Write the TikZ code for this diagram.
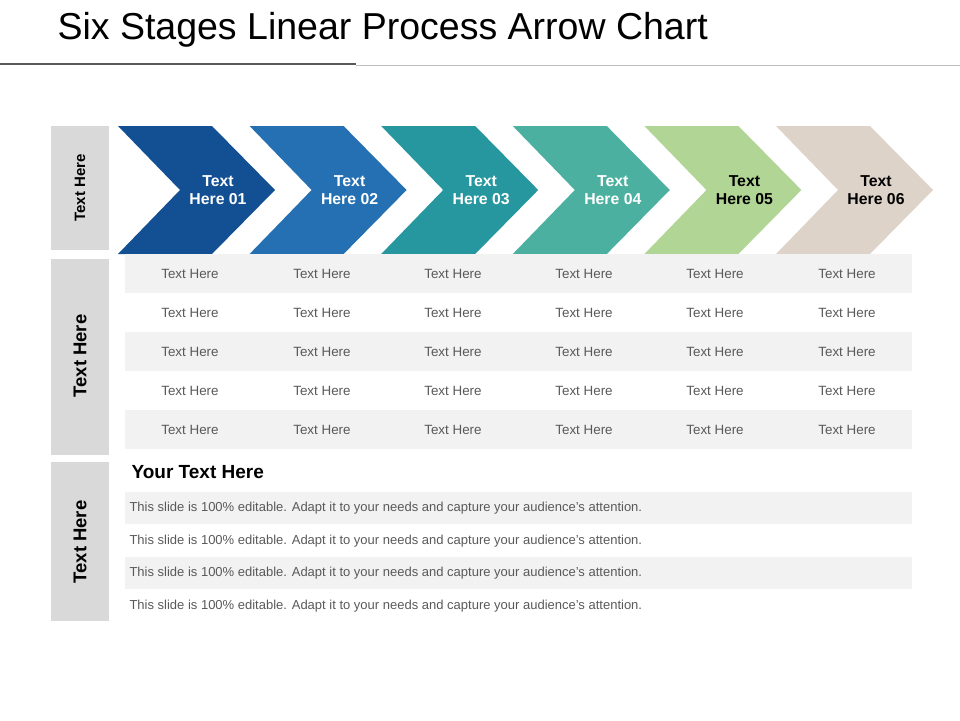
\documentclass[tikz,border=0pt]{standalone}
\usepackage{fontspec}
\setmainfont{Liberation Sans}
\definecolor{c1}{HTML}{134F93}
\definecolor{c2}{HTML}{2470B3}
\definecolor{c3}{HTML}{27979F}
\definecolor{c4}{HTML}{4BB09F}
\definecolor{c5}{HTML}{B1D595}
\definecolor{c6}{HTML}{DDD3C9}
\definecolor{rowgray}{HTML}{F2F2F2}
\definecolor{sidegray}{HTML}{D9D9D9}
\definecolor{celltext}{HTML}{595959}
\tikzset{
  side/.style={fill=sidegray,draw=none},
  sidelabel/.style={rotate=90,font=\bfseries\fontsize{15}{16}\selectfont,text=black},
  bigsidelabel/.style={rotate=90,font=\bfseries\fontsize{18.5}{20}\selectfont,text=black},
  cell/.style={font=\fontsize{13.4}{15}\selectfont,text=celltext},
  line/.style={font=\fontsize{13}{15}\selectfont,text=celltext,anchor=west},
  chevtext/.style={font=\bfseries\fontsize{15.8}{18}\selectfont,align=center},
}
\begin{document}
\begin{tikzpicture}[x=1pt,y=-1pt]
\useasboundingbox (0,0) rectangle (960,720);
\node[anchor=west,font=\fontsize{37.5}{40}\selectfont] (title) at (54,30) {Six Stages Linear Process Arrow Chart};
\draw[line width=2pt,color=black!65] (0,64) -- (356,64);
\draw[line width=0.6pt,color=black!25] (356,65) -- (960,65);
% side bars
\fill[side] (51,126) rectangle (109,250);
\fill[side] (51,259) rectangle (109,455);
\fill[side] (51,462) rectangle (109,621);
\node[sidelabel] (s1) at (80,188) {Text Here};
\node[bigsidelabel] (s2) at (80,356) {Text Here};
\node[bigsidelabel] (s3) at (80,542) {Text Here};
% chevrons
\foreach \i/\c/\t in {0/c1/white,1/c2/white,2/c3/white,3/c4/white,4/c5/black,5/c6/black}{
  \pgfmathsetmacro{\L}{118+131.6*\i}
  \fill[\c] (\L,126) -- (\L+94,126) -- (\L+157,190) -- (\L+94,254) -- (\L,254) -- (\L+62,190) -- cycle;
  \pgfmathtruncatemacro{\n}{\i+1}
  \node[chevtext,text=\t] (ch\n) at (\L+100,190) {Text\\Here 0\n};
}
% table
\foreach \y in {254,332,410}{\fill[rowgray] (125,\y) rectangle (912,\y+39);}
\foreach \r in {0,...,4}{
  \foreach \x in {190,322,453,584,715,847}{
    \node[cell] at (\x,274+38.9*\r) {Text Here};
  }
}
% bottom
\node[anchor=west,font=\bfseries\fontsize{19}{21}\selectfont] (yt) at (128,472) {Your Text Here};
\fill[rowgray] (125,492) rectangle (912,524);
\fill[rowgray] (125,557) rectangle (912,589);
\foreach \y in {508,541,573,606}{
  \node[line] at (126,\y) {This slide is 100\% editable. Adapt it to your needs and capture your audience's attention.};
}
\end{tikzpicture}
\end{document}
